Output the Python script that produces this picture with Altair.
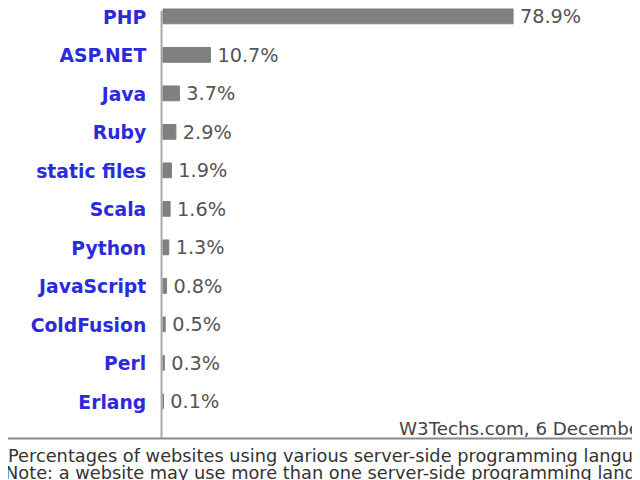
import altair as alt
import pandas as pd

languages = ["PHP", "ASP.NET", "Java", "Ruby", "static files", "Scala",
             "Python", "JavaScript", "ColdFusion", "Perl", "Erlang"]
shares = [78.9, 10.7, 3.7, 2.9, 1.9, 1.6, 1.3, 0.8, 0.5, 0.3, 0.1]
source_note = "W3Techs.com, 6 December 2017"
caption_1 = "Percentages of websites using various server-side programming languages"
caption_2 = "Note: a website may use more than one server-side programming language"

df = pd.DataFrame({"lang": languages, "value": shares, "idx": list(range(len(languages)))})
df["label"] = [f"{v:.1f}%" for v in shares]

PADL = 157
W, H = 632 - PADL, 432
FONT = "DejaVu Sans"

yenc = alt.Y("idx:Q", axis=None,
             scale=alt.Scale(domain=[-0.14, 10.94], reverse=True, nice=False,
                             zero=False, padding=0))
xscale = alt.Scale(domain=[0, 105.7], nice=False, padding=0)

base = alt.Chart(df)

bars = base.mark_bar(orient="horizontal", size=15, color="#808080", stroke="#808080",
                     strokeWidth=1).encode(
    x=alt.X("value:Q", scale=xscale, axis=None),
    x2=alt.datum(0),
    y=yenc,
)

vals = base.mark_text(align="left", baseline="middle", dx=7, dy=1, font=FONT, fontSize=19.5,
                      color="#555555").encode(
    x=alt.X("value:Q", scale=xscale),
    y=yenc,
    text="label:N",
)

names = base.mark_text(align="right", baseline="middle", dy=1.5, font=FONT, fontSize=19,
                       fontWeight="bold", color="#2b2bdc").encode(
    x=alt.value(-17),
    y=yenc,
    text="lang:N",
)

one = pd.DataFrame({"d": [0]})
vline = alt.Chart(one).mark_rule(color="#a8a8a8", strokeWidth=2).encode(
    x=alt.value(-1.5), y=alt.value(0), y2=alt.value(H + 1))
hline = alt.Chart(one).mark_rule(color="#8a8a8a", strokeWidth=2).encode(
    x=alt.value(-PADL - 5), x2=alt.value(W + 10), y=alt.value(H + 1))

note = alt.Chart(one).mark_text(align="left", baseline="middle", font=FONT, fontSize=18.5,
                                color="#444444").encode(
    x=alt.value(396 - PADL), y=alt.value(423), text=alt.value(source_note))
cap1 = alt.Chart(one).mark_text(align="left", baseline="middle", font=FONT, fontSize=18,
                                color="#333333").encode(
    x=alt.value(-PADL), y=alt.value(452), text=alt.value(caption_1))
cap2 = alt.Chart(one).mark_text(align="left", baseline="middle", font=FONT, fontSize=18,
                                color="#333333").encode(
    x=alt.value(-PADL - 3), y=alt.value(469), text=alt.value(caption_2))

chart = alt.layer(vline, hline, bars, vals, names, note, cap1, cap2).properties(
    width=W, height=H,
    autosize=alt.AutoSizeParams(type="none"),
    padding={"left": PADL, "top": 0, "right": 0, "bottom": 40},
).configure_view(stroke=None)

chart.save("out.html", embed_options={"renderer": "svg", "actions": False})
